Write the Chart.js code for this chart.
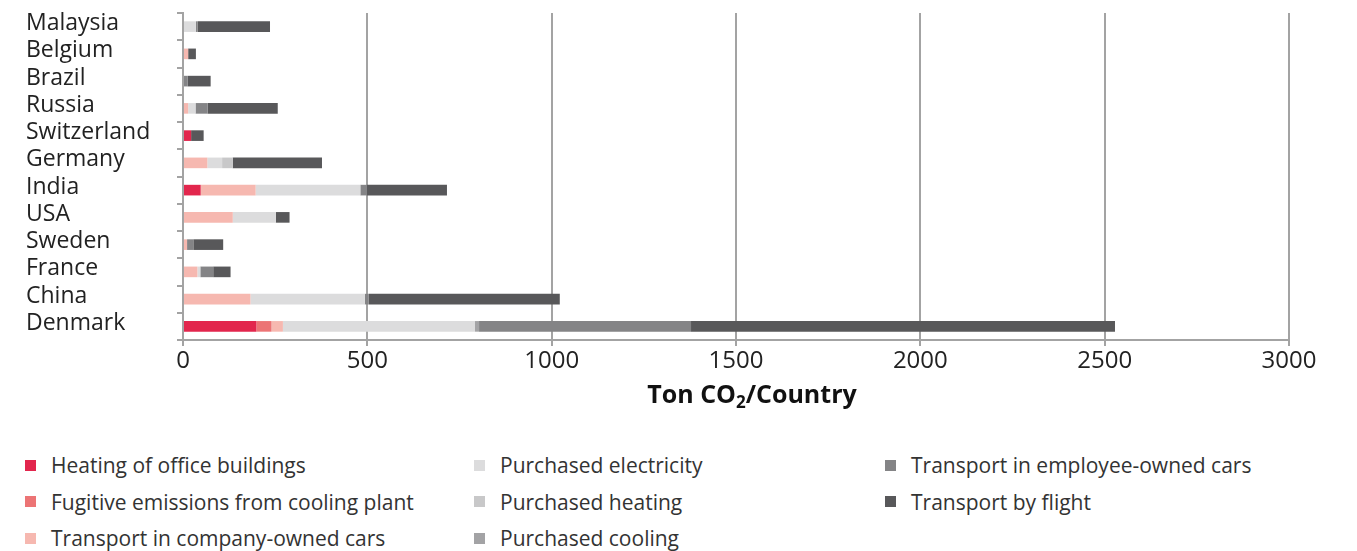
<!DOCTYPE html>
<html>
<head>
<meta charset="utf-8">
<script src="https://cdn.jsdelivr.net/npm/chart.js@4.4.1/dist/chart.umd.min.js"></script>
<style>
    body { margin: 0; background: #fff; font-family: 'Open Sans', sans-serif; }
    #wrap { position: relative; width: 1357px; height: 551px; }
    #chartBox { position: absolute; left: 0; top: 0; width: 1357px; height: 420px; }
    #legend {
        position: absolute; left: 25px; top: 447px;
        display: grid;
        grid-template-columns: 449px 411px 300px;
        grid-template-rows: repeat(3, 36.5px);
        grid-auto-flow: column;
    }
    .item { display: flex; align-items: center; font-size: 21px; color: #333; white-space: nowrap; }
    .box { width: 11px; height: 11px; margin-right: 15px; flex: none; }
</style>
</head>
<body>
<div id="wrap">
    <div id="chartBox"><canvas id="co2Chart"></canvas></div>
    <div id="legend"></div>
</div>
<script>
// Categories and series (ton CO2 per country)
const countries = ['Malaysia', 'Belgium', 'Brazil', 'Russia', 'Switzerland', 'Germany', 'India', 'USA', 'Sweden', 'France', 'China', 'Denmark'];

const heatingOffice   = [0, 0, 0, 0, 22, 0, 48, 0, 0, 0, 0, 199];
const fugitiveCooling = [0, 0, 0, 0, 0, 0, 0, 0, 0, 0, 0, 41];
const companyCars     = [0, 14, 0, 14, 0, 66, 149, 135, 11, 39, 183, 31];
const electricity     = [35, 0, 0, 20, 0, 40, 284, 117, 0, 8, 310, 521];
const purchHeating    = [0, 0, 0, 0, 0, 29, 0, 0, 0, 0, 0, 0];
const purchCooling    = [0, 0, 0, 0, 0, 0, 0, 0, 0, 0, 0, 11];
const employeeCars    = [5, 0, 13, 33, 0, 0, 18, 0, 17, 35, 11, 575];
const flights         = [196, 21, 62, 190, 34, 242, 217, 37, 81, 47, 518, 1150];

const xTicks = [0, 500, 1000, 1500, 2000, 2500, 3000];

const series = [
    { label: 'Heating of office buildings', data: heatingOffice, color: '#e2264d' },
    { label: 'Fugitive emissions from cooling plant', data: fugitiveCooling, color: '#ec7475' },
    { label: 'Transport in company-owned cars', data: companyCars, color: '#f6b8b0' },
    { label: 'Purchased electricity', data: electricity, color: '#dcdcdd' },
    { label: 'Purchased heating', data: purchHeating, color: '#c8c8c9' },
    { label: 'Purchased cooling', data: purchCooling, color: '#a3a3a5' },
    { label: 'Transport in employee-owned cars', data: employeeCars, color: '#848486' },
    { label: 'Transport by flight', data: flights, color: '#58585a' }
];

const axisGray = '#a3a3a3';

// x axis title with a real subscript 2
const axisTitle = {
    id: 'axisTitle',
    afterDraw(chart) {
        const ctx = chart.ctx;
        const parts = [
            { t: 'Ton CO', size: 25, dy: 0 },
            { t: '2', size: 17, dy: 5 },
            { t: '/Country', size: 25, dy: 0 }
        ];
        ctx.save();
        ctx.fillStyle = '#111';
        ctx.textBaseline = 'alphabetic';
        let total = 0;
        parts.forEach(p => {
            ctx.font = 'bold ' + p.size + 'px "Open Sans"';
            p.w = ctx.measureText(p.t).width;
            total += p.w;
        });
        let x = 752 - total / 2;
        parts.forEach(p => {
            ctx.font = 'bold ' + p.size + 'px "Open Sans"';
            ctx.fillText(p.t, x, 403 + p.dy);
            x += p.w;
        });
        ctx.restore();
    }
};

const chart = new Chart(document.getElementById('co2Chart'), {
    type: 'bar',
    data: {
        labels: countries,
        datasets: series.map(s => ({
            label: s.label,
            data: s.data,
            backgroundColor: s.color,
            borderWidth: 0,
            barPercentage: 0.39,
            categoryPercentage: 1
        }))
    },
    plugins: [axisTitle],
    options: {
        indexAxis: 'y',
        responsive: true,
        maintainAspectRatio: false,
        animation: false,
        layout: { padding: { left: 26, right: 68, top: 13, bottom: 0 } },
        plugins: {
            legend: { display: false },
            tooltip: { enabled: false }
        },
        scales: {
            x: {
                stacked: true,
                min: 0,
                max: 3000,
                z: 1,
                afterBuildTicks: scale => { scale.ticks = xTicks.map(v => ({ value: v })); },
                afterFit: scale => { scale.height = 80; },
                grid: { color: axisGray, lineWidth: 2, tickLength: 6 },
                border: { display: true, color: axisGray, width: 2 },
                ticks: {
                    color: '#222',
                    font: { family: 'Open Sans', size: 24 },
                    padding: 1,
                    callback: value => String(value)
                }
            },
            y: {
                stacked: true,
                afterFit: scale => {
                    scale.width = 157;
                    scale.paddingTop = 0;
                    scale.paddingBottom = 0;
                },
                grid: { drawOnChartArea: false, color: axisGray, lineWidth: 2, tickLength: 6 },
                border: { display: true, color: axisGray, width: 2 },
                ticks: {
                    color: '#222',
                    autoSkip: false,
                    crossAlign: 'far',
                    labelOffset: -3,
                    font: { family: 'Open Sans', size: 23 }
                }
            }
        }
    }
});

// legend, column-wise like the original
const legendEl = document.getElementById('legend');
chart.data.datasets.forEach(ds => {
    const item = document.createElement('div');
    item.className = 'item';
    const box = document.createElement('span');
    box.className = 'box';
    box.style.background = ds.backgroundColor;
    const txt = document.createElement('span');
    txt.textContent = ds.label;
    item.appendChild(box);
    item.appendChild(txt);
    legendEl.appendChild(item);
});
</script>
</body>
</html>
